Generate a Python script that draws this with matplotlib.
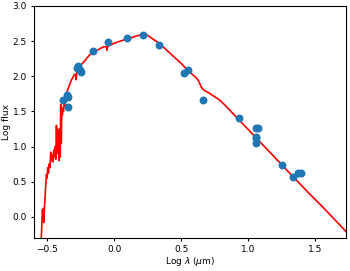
import numpy as np
import matplotlib
matplotlib.use('Agg')
import matplotlib.pyplot as plt

# model spectrum (log wavelength in micron, log flux)
model_logwl = [-0.545, -0.540, -0.537, -0.533, -0.530, -0.527, -0.523, -0.518, -0.512, -0.507,
               -0.502, -0.497, -0.492, -0.487, -0.480, -0.475, -0.470, -0.465, -0.458, -0.452,
               -0.447, -0.442, -0.437, -0.432, -0.428, -0.424, -0.420, -0.416, -0.412, -0.408,
               -0.404, -0.400, -0.396, -0.392, -0.388, -0.384, -0.380, -0.375, -0.370, -0.365,
               -0.358, -0.350, -0.340, -0.330, -0.320, -0.310, -0.300, -0.290, -0.285, -0.280,
               -0.260, -0.240, -0.220, -0.200, -0.180, -0.160, -0.140, -0.120, -0.100, -0.080,
               -0.060, -0.055, -0.050, -0.020, 0.000, 0.030, 0.060, 0.100, 0.130, 0.160,
               0.200, 0.220, 0.250, 0.280, 0.310, 0.340, 0.380, 0.420, 0.460, 0.500,
               0.540, 0.580, 0.610, 0.630, 0.650, 0.670, 0.700, 0.740, 0.780, 0.820,
               0.860, 0.900, 0.940, 0.980, 1.020, 1.060, 1.100, 1.150, 1.200, 1.250,
               1.300, 1.350, 1.400, 1.450, 1.500, 1.550, 1.600, 1.650, 1.700, 1.740]
model_logflux = [-0.30, -0.05, 0.10, 0.05, 0.12, -0.08, 0.08, 0.25, 0.45, 0.60,
                 0.55, 0.70, 0.62, 0.75, 0.70, 0.92, 0.80, 0.88, 0.78, 0.95,
                 0.85, 1.00, 0.82, 1.30, 0.90, 1.25, 0.95, 1.20, 0.80, 1.25,
                 0.85, 1.60, 1.05, 1.55, 1.45, 1.55, 1.50, 1.60, 1.58, 1.70,
                 1.74, 1.80, 1.85, 1.90, 1.95, 1.98, 2.02, 2.03, 1.95, 2.06,
                 2.12, 2.18, 2.22, 2.27, 2.31, 2.34, 2.36, 2.38, 2.40, 2.42,
                 2.42, 2.37, 2.43, 2.45, 2.47, 2.49, 2.51, 2.53, 2.55, 2.57,
                 2.59, 2.61, 2.58, 2.54, 2.50, 2.46, 2.39, 2.32, 2.25, 2.18,
                 2.10, 2.03, 1.98, 1.93, 1.84, 1.80, 1.77, 1.72, 1.67, 1.60,
                 1.52, 1.44, 1.36, 1.28, 1.20, 1.12, 1.04, 0.94, 0.84, 0.74,
                 0.64, 0.54, 0.44, 0.34, 0.245, 0.15, 0.05, -0.05, -0.15, -0.23]

# observed photometry
obs_logwl = [-0.38, -0.35, -0.345, -0.348, -0.28, -0.27, -0.25, -0.26, -0.157, -0.05,
             0.097, 0.217, 0.336, 0.52, 0.55, 0.66, 0.93, 1.06, 1.075, 1.06,
             1.06, 1.06, 1.25, 1.336, 1.37, 1.39]
obs_logflux = [1.665, 1.74, 1.70, 1.56, 2.12, 2.14, 2.06, 2.09, 2.36, 2.49,
               2.54, 2.59, 2.45, 2.05, 2.09, 1.665, 1.41, 1.27, 1.27, 1.14,
               1.12, 1.05, 0.74, 0.56, 0.63, 0.63]

plt.rcParams['font.size'] = 6.5
fig = plt.figure(figsize=(3.5, 2.71), dpi=100)
ax = fig.add_axes([0.097, 0.122, 0.892, 0.856])

ax.plot(model_logwl, model_logflux, color='red', lw=1.2)
ax.scatter(obs_logwl, obs_logflux, s=22, color='tab:blue', zorder=3)

ax.set_xlim(-0.6, 1.73)
ax.set_ylim(-0.3, 3.0)
ax.set_xticks([-0.5, 0.0, 0.5, 1.0, 1.5])
ax.tick_params(length=2.5, pad=2.5)
ax.set_xlabel(r'Log $\lambda$ ($\mu$m)', labelpad=1)
ax.set_ylabel('Log flux', labelpad=1)

fig.savefig('out.png', dpi=100)
